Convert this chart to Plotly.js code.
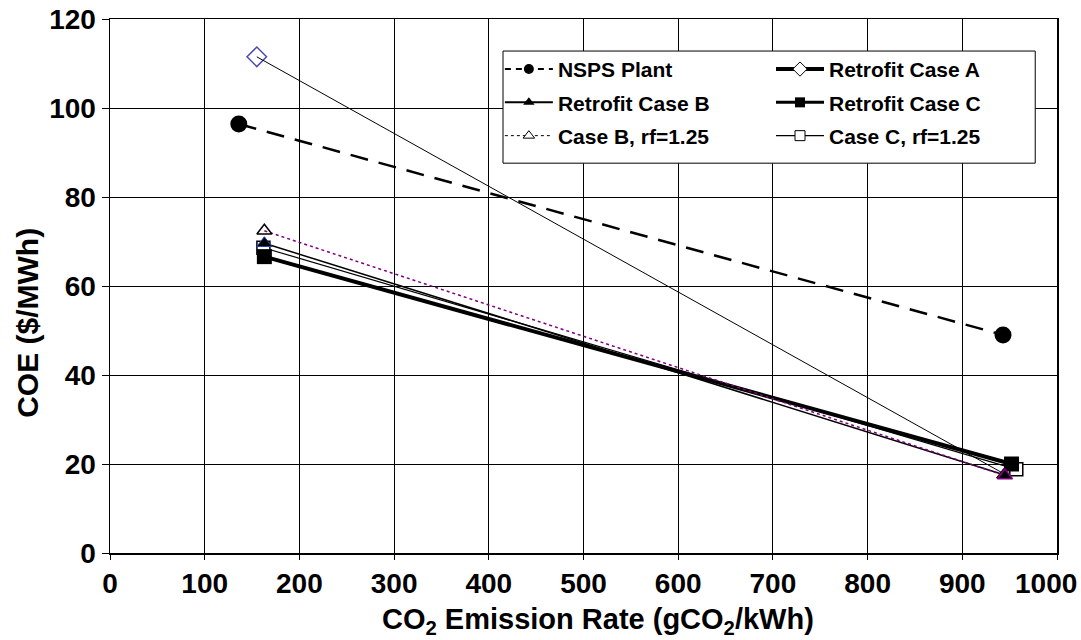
<!DOCTYPE html>
<html>
<head>
<meta charset="utf-8">
<script src="https://cdn.plot.ly/plotly-3.0.1.min.js"></script>
<style>html,body{margin:0;padding:0;background:#fff;}#chart{width:1081px;height:640px;}</style>
</head>
<body>
<div id="chart"></div>
<script>
// ---- data ----
const seriesNames = ['NSPS Plant', 'Retrofit Case A', 'Retrofit Case B', 'Retrofit Case C', 'Case B, rf=1.25', 'Case C, rf=1.25'];
const nspsX = [136, 943];      const nspsY = [96.4, 49.0];
const caseAX = [155, 944];     const caseAY = [111.5, 17.8];
const caseBX = [163, 944];     const caseBY = [69.6, 17.6];
const caseCX = [163, 952];     const caseCY = [66.6, 20.0];
const caseBrfX = [163, 945];   const caseBrfY = [72.4, 17.4];
const caseCrfX = [162, 957];   const caseCrfY = [68.6, 18.8];
const xTickVals = [0, 100, 200, 300, 400, 500, 600, 700, 800, 900, 1000];
const xTickText = ['0', '100', '200', '300', '400', '500', '600', '700', '800', '900', '1000'];
const yTickVals = [0, 20, 40, 60, 80, 100, 120];
const yTickText = ['0', '20', '40', '60', '80', '100', '120'];
const xTitle = 'CO<sub>2</sub> Emission Rate (gCO<sub>2</sub>/kWh)';
const yTitle = 'COE ($/MWh)';

const FONT = 'Liberation Sans, Arial, sans-serif';
const BOLD = (size) => ({family: FONT, size: size, weight: 'bold', color: '#000'});

// plotted series (legend drawn by separate entries below)
const plotTraces = [
  {x: nspsX, y: nspsY, mode: 'lines+markers', showlegend: false,
   line: {color: '#000', width: 2.5, dash: '18px,11px'},
   marker: {symbol: 'circle', size: 17, color: '#000'}},
  {x: caseAX, y: caseAY, mode: 'lines+markers', showlegend: false,
   line: {color: '#000', width: 1},
   marker: {symbol: 'diamond-open', size: [15, 0], color: '#00008B', line: {width: 1.5, color: '#00008B'}}},
  {x: caseCrfX, y: caseCrfY, mode: 'lines+markers', showlegend: false,
   line: {color: '#000', width: 1.2},
   marker: {symbol: 'square', size: 13, color: '#fff', line: {width: 1.5, color: '#000'}}},
  {x: caseBX, y: caseBY, mode: 'lines+markers', showlegend: false,
   line: {color: '#000', width: 1.5},
   marker: {symbol: 'triangle-up', size: 13, color: '#000', line: {width: 1, color: ['#1f3fbf', '#000']}}},
  {x: caseCX, y: caseCY, mode: 'lines+markers', showlegend: false,
   line: {color: '#000', width: 4},
   marker: {symbol: 'square', size: 15, color: '#000'}},
  {x: caseBrfX, y: caseBrfY, mode: 'lines+markers', showlegend: false,
   line: {color: '#800080', width: 1.5, dash: 'dot'},
   marker: {symbol: 'triangle-up-open', size: 13, color: ['#000', '#800080'], line: {width: 1.5}}}
];

// legend-only entries (no data points)
function legendEntry(name, legend, line, marker) {
  return {x: [null], y: [null], mode: 'lines+markers', name: name, legend: legend, legendgroup: name,
          showlegend: true, line: line, marker: marker, hoverinfo: 'skip'};
}
const legendTraces = [
  legendEntry(seriesNames[0], 'legend', {color: '#000', width: 2, dash: '6px,5px'}, {symbol: 'circle', size: 10, color: '#000'}),
  legendEntry(seriesNames[2], 'legend', {color: '#000', width: 2}, {symbol: 'triangle-up', size: 10, color: '#000'}),
  legendEntry(seriesNames[4], 'legend', {color: '#000', width: 1, dash: 'dot'}, {symbol: 'triangle-up', size: 10, color: '#fff', line: {width: 1, color: '#000'}}),
  legendEntry(seriesNames[1], 'legend2', {color: '#000', width: 4}, {symbol: 'diamond', size: 11, color: '#fff', line: {width: 1, color: '#000'}}),
  legendEntry(seriesNames[3], 'legend2', {color: '#000', width: 3}, {symbol: 'square', size: 10, color: '#000'}),
  legendEntry(seriesNames[5], 'legend2', {color: '#000', width: 1.2}, {symbol: 'square', size: 10, color: '#fff', line: {width: 1, color: '#000'}})
];

const legendCommon = {
  orientation: 'v', bgcolor: 'rgba(0,0,0,0)', borderwidth: 0,
  font: BOLD(21),
  itemwidth: 48, tracegroupgap: 3, xanchor: 'left', yanchor: 'top',
  itemclick: false, itemdoubleclick: false, traceorder: 'grouped'
};

const lastTick = xTickVals.length - 1;

const layout = {
  width: 1081, height: 640,
  margin: {l: 110, r: 24, t: 19, b: 87, pad: 0},
  paper_bgcolor: '#fff', plot_bgcolor: '#fff',
  font: BOLD(28),
  xaxis: {
    range: [0, 1000], tickvals: xTickVals,
    // the last label is placed (shifted left to stay inside the picture) as an annotation below
    ticktext: xTickText.map((t, i) => i === lastTick ? '' : t),
    showgrid: true, gridcolor: '#000', gridwidth: 1,
    showline: true, linecolor: '#000', linewidth: 1.5, mirror: true,
    ticks: 'outside', ticklen: 5, tickcolor: '#000', zeroline: false,
    tickfont: BOLD(28)
  },
  yaxis: {
    range: [0, 120], tickvals: yTickVals, ticktext: yTickText,
    showgrid: true, gridcolor: '#000', gridwidth: 1,
    showline: true, linecolor: '#000', linewidth: 1.5, mirror: true,
    ticks: 'outside', ticklen: 7, tickcolor: '#000', zeroline: false,
    tickfont: BOLD(28)
  },
  annotations: [
    {text: xTickText[lastTick], xref: 'x', yref: 'paper', x: xTickVals[lastTick], xshift: -11,
     y: -0.0562, xanchor: 'center', yanchor: 'middle', showarrow: false, font: BOLD(28)},
    {text: xTitle, xref: 'paper', yref: 'paper', x: 0.515, y: -0.128,
     xanchor: 'center', yanchor: 'middle', showarrow: false, font: BOLD(29)},
    {text: yTitle, xref: 'paper', yref: 'paper', x: -0.0866, y: 0.431, textangle: -90,
     xanchor: 'center', yanchor: 'middle', showarrow: false, font: BOLD(30)}
  ],
  legend: Object.assign({}, legendCommon, {x: 0.4117, y: 0.944}),
  legend2: Object.assign({}, legendCommon, {x: 0.698, y: 0.944}),
  shapes: [{
    type: 'rect', xref: 'paper', yref: 'paper', layer: 'above',
    x0: 0.415, x1: 0.977, y0: 0.730, y1: 0.940,
    fillcolor: '#fff', line: {color: '#000', width: 1}
  }],
  showlegend: true
};

Plotly.newPlot('chart', plotTraces.concat(legendTraces), layout, {staticPlot: true, displayModeBar: false});
</script>
</body>
</html>
